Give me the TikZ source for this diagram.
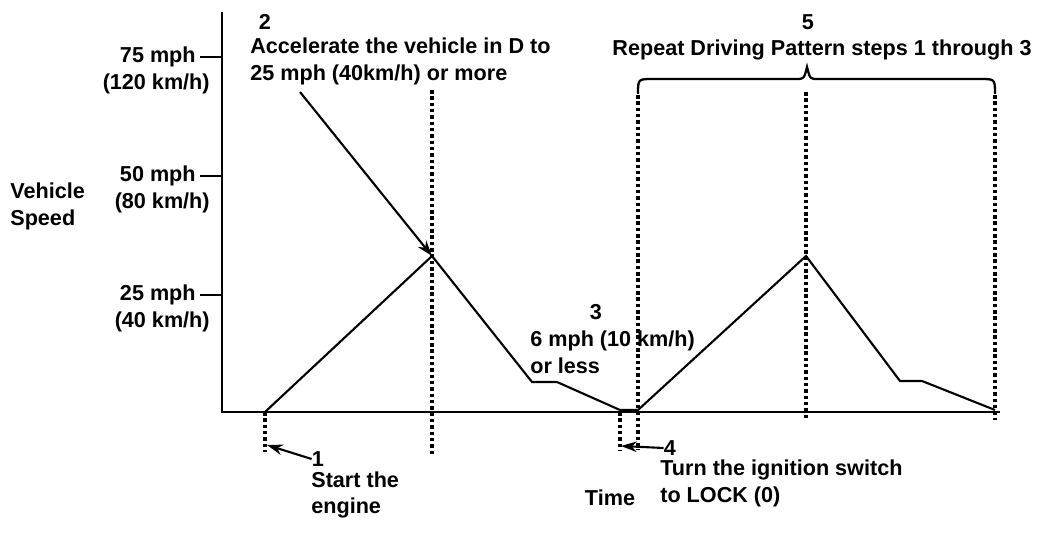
\documentclass[tikz,border=0pt]{standalone}
\usepackage{fontspec}
\setmainfont{Liberation Sans}
\usetikzlibrary{arrows.meta}

\begin{document}
\begin{tikzpicture}[x=0.02cm, y=-0.02cm,
    every node/.style={font=\fontsize{12.3}{15.3}\selectfont\bfseries, inner sep=0pt},
    guide/.style={line width=1.8pt, dash pattern=on 2pt off 1.6pt},
    trace/.style={line width=1.2pt, line join=miter},
    callout/.style={line width=1.2pt, -{Stealth[length=9pt,width=6pt]}}]
    \useasboundingbox (0,0) rectangle (1056,540);
    % axes
    \coordinate (origin) at (222,412);
    \coordinate (ytop) at (222,12);
    \coordinate (xend) at (1000,412);
    \draw[line width=1.5pt] (ytop) -- (origin) -- (xend);
    \foreach \y/\mph/\kmh in {57/75/120, 176/50/80, 295/25/40} {
      \draw[line width=1.4pt] (200,\y) -- (222,\y);
      \node[anchor=east] (mph\mph) at (196,\y) {\mph{} mph};
      \node[anchor=east] (kmh\kmh) at (210,\y+27) {(\kmh{} km/h)};
    }
    \node[anchor=west, align=left] (yname) at (10,206) {Vehicle\\Speed};
    % speed trace
    \coordinate (s0) at (265,412); \coordinate (p1) at (432,256);
    \coordinate (k1) at (532,382); \coordinate (k2) at (557,382);
    \coordinate (b1) at (620,410); \coordinate (b2) at (638,410);
    \coordinate (p2) at (806,256); \coordinate (k3) at (900,381);
    \coordinate (k4) at (922,381); \coordinate (e0) at (995,410);
    \draw[trace] (s0) -- (p1) -- (k1) -- (k2) -- (b1) -- (b2) -- (p2) -- (k3) -- (k4) -- (e0);
    % guide lines
    \draw[guide] (265,412) -- (265,452);
    \draw[guide] (432,90) -- (432,456);
    \draw[guide] (620,412) -- (620,450);
    \draw[guide] (638,95) -- (638,450);
    \draw[guide] (806,92) -- (806,420);
    \draw[guide] (995,95) -- (995,420);
    % brace
    \draw[line width=1.3pt] (638,94) .. controls (638,79) .. (653,79) -- (796,79)
      .. controls (804,79) .. (807,67) .. controls (810,79) .. (818,79) -- (980,79)
      .. controls (995,79) .. (995,94);
    % labels
    \node (num2) at (265,22) {2};
    \node[anchor=west, align=left] (step2) at (250,61) {Accelerate the vehicle in D to\\25 mph (40km/h) or more};
    \node (num5) at (808,22) {5};
    \node (step5) at (822,50) {Repeat Driving Pattern steps 1 through 3};
    \node (num3) at (596,312) {3};
    \node[anchor=west, align=left] (step3) at (530,352) {6 mph (10 km/h)\\or less};
    \node (num1) at (318,459) {1};
    \node[anchor=west, align=left] (step1) at (311,495) {Start the\\engine};
    \node (num4) at (670,448) {4};
    \node[anchor=west, align=left] (step4) at (660,483) {Turn the ignition switch\\to LOCK (0)};
    \node (time) at (610,498) {Time};
    % callouts
    \coordinate (a2) at (300,92);
    \coordinate (a1) at (267,445);
    \coordinate (a4) at (621,446);
    \draw[callout] (a2) -- (p1);
    \draw[callout] (num1.west) -- (a1);
    \draw[callout] (num4.west) -- (a4);
\end{tikzpicture}
\end{document}
